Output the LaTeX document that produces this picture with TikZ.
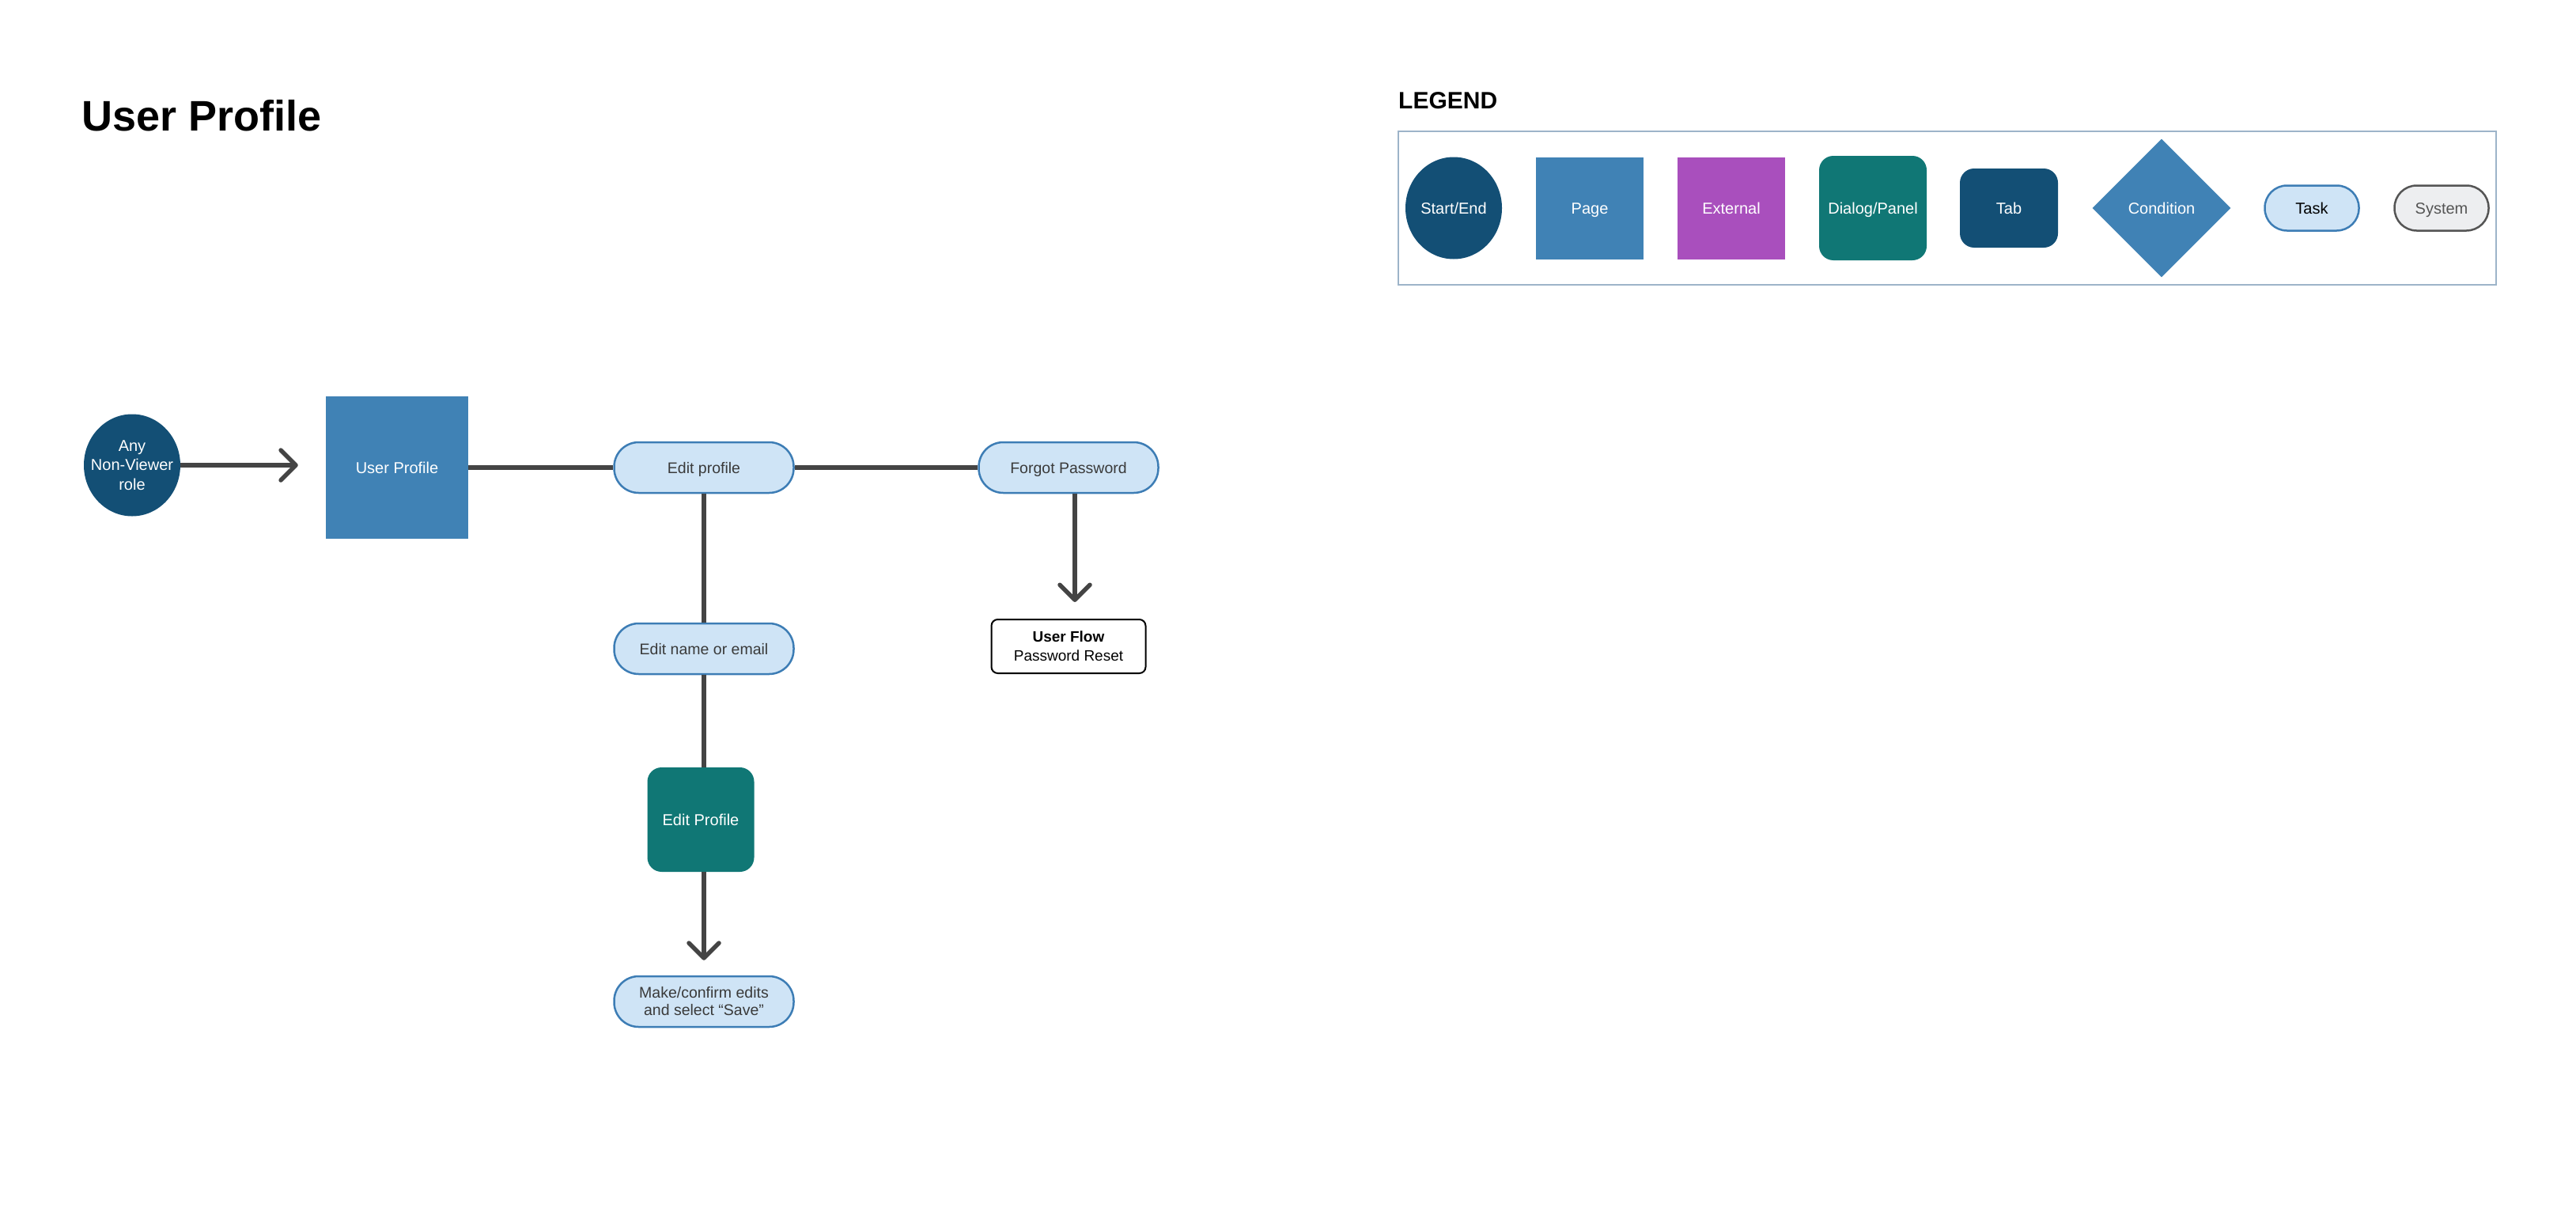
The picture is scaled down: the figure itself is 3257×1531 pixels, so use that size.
\documentclass[tikz,border=0pt]{standalone}
\usepackage{fontspec}
\setmainfont{Liberation Sans}
\usepackage{xcolor}
\usepackage{tikz}
\usetikzlibrary{arrows.meta, positioning, shapes.geometric}
\definecolor{navyblue}{HTML}{134F75}
\definecolor{pageblue}{HTML}{4082B5}
\definecolor{extpurple}{HTML}{A94FBD}
\definecolor{dialogteal}{HTML}{107775}
\definecolor{taskfill}{HTML}{CFE4F6}
\definecolor{taskedge}{HTML}{3D7DB5}
\definecolor{sysfill}{HTML}{EDEEF0}
\definecolor{sysedge}{HTML}{555555}
\definecolor{linegray}{HTML}{444444}
\definecolor{legendedge}{HTML}{9DB4C9}
\definecolor{textgray}{HTML}{3A3A3A}

\tikzset{
  startend/.style={ellipse, fill=navyblue, text=white, inner sep=-16pt,
    minimum width=122pt, minimum height=129pt, align=center,
    font=\fontsize{20}{24.5}\selectfont},
  oneline/.style={text height=16pt, text depth=1pt},
  pagebox/.style={rectangle, fill=pageblue, text=white, inner sep=0pt,
    oneline, font=\fontsize{20}{24}\selectfont},
  dialogbox/.style={rectangle, rounded corners=18pt, fill=dialogteal,
    text=white, inner sep=0pt, oneline, font=\fontsize{20}{24}\selectfont},
  taskpill/.style={rectangle, rounded corners=31pt, draw=taskedge,
    line width=2.5pt, fill=taskfill, text=textgray, inner sep=0pt,
    minimum width=227pt, minimum height=64pt, align=center,
    font=\fontsize{19.5}{22}\selectfont},
  flowref/.style={rectangle, rounded corners=8pt, draw=black,
    line width=2pt, fill=white, inner sep=0pt, minimum width=195pt,
    minimum height=68pt, align=center, font=\fontsize{19}{24}\selectfont},
  flowlink/.style={draw=linegray, line width=5.5pt},
  flowarrow/.style={flowlink, -{Straight Barb[length=19pt,width=38pt,round]}},
}

\begin{document}
\begin{tikzpicture}[x=1pt, y=-1pt]
  %% 1 unit = 1 pixel of the 3257 x 1531 canvas, y grows downward
  \useasboundingbox (0,0) rectangle (3257,1531);

  % Title
  \node[anchor=base west, inner sep=0pt, font=\fontsize{54}{60}\selectfont\bfseries]
    (title) at (103,165) {User Profile};

  % Main flow
  \node[startend] (start) at (167,588) {Any\\Non-Viewer\\role};
  \node[pagebox, minimum width=180pt, minimum height=180pt] (profile)
    at (502,591) {User Profile};
  \node[taskpill, oneline] (editprof) at (890,591) {Edit profile};
  \node[taskpill, oneline] (forgot) at (1351,591) {Forgot Password};
  \node[taskpill, oneline] (editname) at (890,820) {Edit name or email};
  \node[dialogbox, minimum width=135pt, minimum height=132pt] (dialog)
    at (886,1036) {Edit Profile};
  \node[taskpill] (confirm) at (890,1266)
    {Make/confirm edits\\and select “Save”};
  \node[flowref] (reset) at (1351,817) {\textbf{User Flow}\\Password Reset};

  % Connectors
  \draw[flowarrow, shorten >=35pt] (start.east) -- (start.east -| profile.west);
  \draw[flowlink] (profile.east) -- (editprof.west);
  \draw[flowlink] (editprof.east) -- (forgot.west);
  \draw[flowlink] (editprof.south) -- (editname.north);
  \draw[flowlink] (editname.south) -- ([xshift=4pt]dialog.north);
  \draw[flowarrow, shorten >=19pt] ([xshift=4pt]dialog.south) -- (confirm.north);
  \draw[flowarrow, shorten >=21pt] ([xshift=8pt]forgot.south) -- ([xshift=8pt]reset.north);

  % Legend
  \node[anchor=base west, inner sep=0pt, font=\fontsize{30}{34}\selectfont\bfseries]
    (legendtitle) at (1768,137) {LEGEND};
  \node[draw=legendedge, line width=2pt, inner sep=0pt, minimum width=1388pt,
    minimum height=194pt] (legendbox) at (2462,263) {};
  \node[startend, oneline, font=\fontsize{20}{24}\selectfont] (lgstart)
    at (1838,263) {Start/End};
  \node[pagebox, minimum width=136pt, minimum height=129pt] (lgpage)
    at (2010,263) {Page};
  \node[pagebox, fill=extpurple, minimum width=136pt, minimum height=129pt]
    (lgext) at (2189,263) {External};
  \node[dialogbox, minimum width=136pt, minimum height=132pt] (lgdialog)
    at (2368,263) {Dialog/Panel};
  \node[dialogbox, fill=navyblue, minimum width=124pt, minimum height=100pt]
    (lgtab) at (2540,263) {Tab};
  \node[diamond, fill=pageblue, text=white, inner sep=0pt, minimum width=175pt,
    minimum height=175pt, oneline, font=\fontsize{20}{24}\selectfont] (lgcond)
    at (2733,263) {Condition};
  \node[taskpill, oneline, minimum width=119pt, minimum height=57pt,
    rounded corners=28pt, text=black, font=\fontsize{20}{24}\selectfont]
    (lgtask) at (2923,263) {Task};
  \node[taskpill, oneline, draw=sysedge, fill=sysfill, text=sysedge,
    minimum width=119pt, minimum height=57pt, rounded corners=28pt,
    font=\fontsize{20}{24}\selectfont] (lgsys) at (3087,263) {System};
\end{tikzpicture}
\end{document}
